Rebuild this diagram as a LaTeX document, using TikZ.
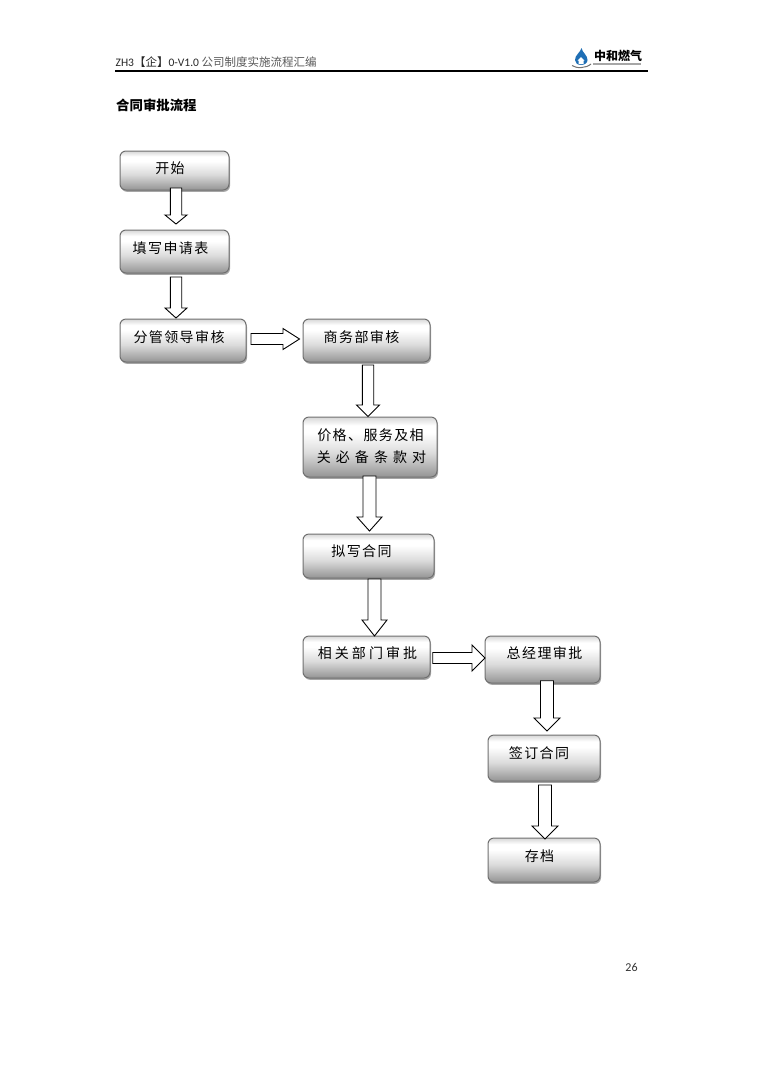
\documentclass[tikz,border=0pt]{standalone}
\usepackage{fontspec}
\setmainfont{Carlito}
\newfontfamily\cjk{Noto Sans CJK SC}
\newfontfamily\cjkspaced[LetterSpace=10]{Noto Sans CJK SC}
\newfontfamily\cjkmid[LetterSpace=22]{Noto Sans CJK SC}
\newfontfamily\cjkwide[LetterSpace=36]{Noto Sans CJK SC}
\usetikzlibrary{shadows,calc}
\definecolor{boxedge}{HTML}{707070}
\definecolor{logoblue}{HTML}{1F6FB5}
\pgfdeclareverticalshading{boxshade}{100bp}{
  color(0bp)=(black!42); color(25bp)=(black!42); color(45bp)=(black!14);
  color(62bp)=(white); color(68bp)=(white); color(75bp)=(black!16); color(100bp)=(black!16)}
\tikzset{
  flowbox/.style={rectangle,rounded corners=6pt,draw=boxedge,line width=1pt,
    inner sep=0pt,outer sep=0pt,shading=boxshade,
    drop shadow={shadow xshift=1pt,shadow yshift=-1.8pt,fill=black,opacity=.35}},
  flowtext/.style={inner sep=0pt,font=\fontsize{14}{21}\selectfont\cjkspaced,text=black,align=center},
  varrow/.style n args={3}{draw=black,line width=.9pt,fill=white,to path={
    let \p1=(\tikztostart),\p2=(\tikztotarget) in
    ({\x2-#1*1pt},\y1) -- ({\x2-#1*1pt},{\y2+#3*1pt}) -- ({\x2-#2*1pt},{\y2+#3*1pt}) -- (\x2,\y2)
    -- ({\x2+#2*1pt},{\y2+#3*1pt}) -- ({\x2+#1*1pt},{\y2+#3*1pt}) -- ({\x2+#1*1pt},\y1) -- cycle}},
  harrow/.style n args={3}{draw=black,line width=.9pt,fill=white,to path={
    let \p1=(\tikztostart),\p2=(\tikztotarget) in
    (\x1,{\y2-#1*1pt}) -- ({\x2-#3*1pt},{\y2-#1*1pt}) -- ({\x2-#3*1pt},{\y2-#2*1pt}) -- (\x2,\y2)
    -- ({\x2-#3*1pt},{\y2+#2*1pt}) -- ({\x2-#3*1pt},{\y2+#1*1pt}) -- (\x1,{\y2+#1*1pt}) -- cycle}},
  headtext/.style={inner sep=0pt,anchor=base west,font=\fontsize{11.5}{14}\selectfont,text=black!85}
}
\newcommand{\flowbox}[5]{%
  \node[flowbox,minimum width=#4-#2,minimum height=#5-#3] (#1) at ({(#2+#4)/2},{(#3+#5)/2}) {};}
\begin{document}
\begin{tikzpicture}[x=1pt,y=-1pt]
\useasboundingbox (0,0) rectangle (764,1080);
\fill[white] (0,0) rectangle (764,1080);

% header
\node[headtext] (hd) at (115.5,66) {ZH3{\cjk 【企】}0-V1.0 {\color{black!65}\cjk 公司制度实施流程汇编}};
\draw[line width=1.3pt,black] (115,71) -- (648,71);
\node[inner sep=0pt,anchor=base west,font=\fontsize{13.4}{16}\selectfont\cjk\bfseries] (ttl) at (116,110.5) {合同审批流程};
\node[inner sep=0pt,font=\fontsize{12}{14}\selectfont,text=black!80] (pg) at (631.5,967.5) {26};

% logo
\fill[logoblue] (581.5,48) .. controls (582.5,53) and (587.5,55) .. (587.5,60) .. controls (587.5,63) and (584.5,65) .. (581,65)
   .. controls (577.5,65) and (575,63) .. (575,60) .. controls (575,55) and (580,53) .. (581.5,48) -- cycle;
\fill[white] (581,57) -- (577.5,60.5) -- (578.5,60.5) -- (578.5,64) -- (583.5,64) -- (583.5,60.5) -- (584.5,60.5) -- cycle;
\draw[line width=1pt,color=black!55] (572,65.5) .. controls (576,68.5) and (586,68.5) .. (591,64);
\node[inner sep=0pt,font=\fontsize{12}{12}\selectfont\cjk\bfseries,text=black] (lg) at (618,56.3) {中和燃气};
\fill[black!35] (593,63.4) rectangle (640.5,65);

% boxes
\flowbox{a}{120}{151}{229}{190}
\flowbox{b}{120}{230}{229}{273}
\flowbox{c}{120}{319}{246}{362}
\flowbox{d}{303}{319}{430}{362}
\flowbox{e}{303}{417}{437}{477}
\flowbox{f}{303}{534}{434}{578}
\flowbox{g}{303}{636}{430}{678}
\flowbox{h}{485}{636}{600}{683}
\flowbox{i}{488}{735}{600}{781}
\flowbox{j}{488}{838}{600}{882}

% labels
\node[flowtext] (ta) at (170,168.5) {开始};
\node[flowtext] (tb) at (170.5,248) {填写申请表};
\node[flowtext] (tc) at (179,337.5) {分管领导审核};
\node[flowtext] (td) at (361.5,337) {商务部审核};
\node[flowtext] (te1) at (370.5,435) {价格、服务及相};
\node[flowtext,font=\fontsize{14}{21}\selectfont\cjkwide] (te2) at (371.5,457) {关必备条款对};
\node[flowtext] (tf) at (361.5,551.5) {拟写合同};
\node[flowtext,font=\fontsize{14}{21}\selectfont\cjkmid] (tg) at (367.5,653) {相关部门审批};
\node[flowtext] (th) at (544.5,653) {总经理审批};
\node[flowtext] (ti) at (539,753) {签订合同};
\node[flowtext] (tj) at (539.5,856) {存档};

% block arrows
\draw[varrow={5.7}{11}{9}] ([shift={(1.5,-2)}]a.south) to ([shift={(1.5,-6)}]b.north);
\draw[varrow={5.7}{11}{10}] ([shift={(1.5,4)}]b.south) to ([shift={(-7,-1)}]c.north);
\draw[harrow={5.5}{10.5}{16.5}] ([shift={(5,-1.5)}]c.east) to ([shift={(-3.5,-1.5)}]d.west);
\draw[varrow={5.7}{11.5}{11.5}] ([shift={(1.5,3)}]d.south) to ([shift={(-2,-.5)}]e.north);
\draw[varrow={6.5}{12.5}{14}] ([shift={(-.5,-1)}]e.south) to ([shift={(1,-3)}]f.north);
\draw[varrow={6.5}{12.5}{16}] ([shift={(6,1)}]f.south) to ([shift={(8,0)}]g.north);
\draw[harrow={5.5}{13}{13}] ([shift={(2.7,1)}]g.east) to ([shift={(0,-1.5)}]h.west);
\draw[varrow={6.5}{13}{13}] ([shift={(4.5,-2.3)}]h.south) to ([shift={(3,-4)}]i.north);
\draw[varrow={6.5}{13}{13}] ([shift={(1,4)}]i.south) to ([shift={(1,1)}]j.north);
\end{tikzpicture}
\end{document}
